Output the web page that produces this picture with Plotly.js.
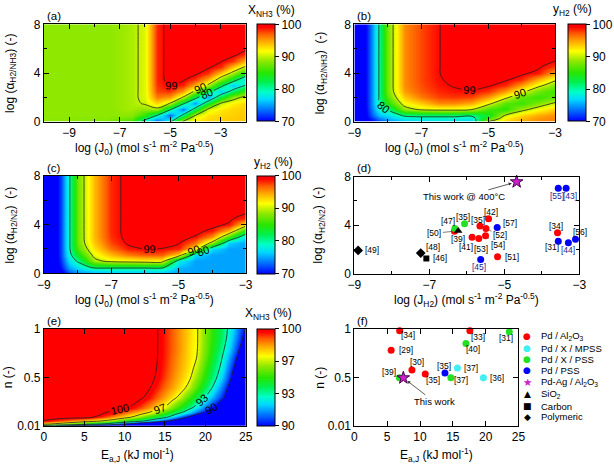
<!DOCTYPE html>
<html><head><meta charset="utf-8">
<script src="https://cdn.plot.ly/plotly-3.0.1.min.js"></script>
<style>html,body{margin:0;padding:0;background:#fff}#plot{width:614px;height:466px}</style>
</head><body><div id="plot"></div>
<script>
// ---------------- DATA ----------------
// (a) X_NH3 (%) vs log(J0) and log(alpha H2/NH3)
const aX = [-10, -7.5, -7, -6.5, -6, -5.5, -5, -4.5, -4, -3.5, -3, -2.5, -2];
const aY = [0, 0.5, 1, 1.5, 2, 2.5, 3, 3.5, 4, 4.5, 5, 5.5, 6, 7, 8];
const aZ = [
 [88.5, 88, 87, 86, 78, 72.5, 79, 90.2, 92.5, 93, 93.3, 93.5, 93.6],
 [88.5, 88.5, 88.5, 88.3, 85, 79.5, 73, 81, 90.1, 92.5, 93, 93.3, 93.5],
 [88.5, 88.5, 88.8, 89.1, 88.5, 89, 80.5, 73.5, 82, 90.5, 92.3, 93, 93.3],
 [88.5, 88.5, 88.8, 89.3, 90.3, 93, 89.8, 81, 74.5, 83, 90.1, 92, 93],
 [88.5, 88.5, 88.8, 89.3, 90.8, 96, 95, 89.9, 81.5, 75, 83, 88.5, 91],
 [88.5, 88.5, 88.8, 89.3, 90.8, 97.5, 98, 95, 89.3, 82, 76, 81.5, 86],
 [88.5, 88.5, 88.8, 89.3, 90.8, 98, 99.3, 98.3, 94.5, 89.5, 82, 76, 80],
 [88.5, 88.5, 88.8, 89.3, 90.8, 98.2, 99.7, 99.4, 98, 94.5, 88.5, 83, 77],
 [88.5, 88.5, 88.8, 89.3, 90.8, 98.2, 99.8, 99.7, 99.5, 98, 93.5, 89, 83.5],
 [88.5, 88.5, 88.8, 89.3, 90.8, 98.2, 99.8, 99.8, 99.7, 99.4, 98, 93.5, 89.5],
 [88.5, 88.5, 88.8, 89.3, 90.8, 98.2, 99.8, 99.8, 99.8, 99.7, 99.3, 97.8, 94],
 [88.5, 88.5, 88.8, 89.3, 90.8, 98.2, 99.8, 99.8, 99.8, 99.8, 99.7, 99.5, 98],
 [88.5, 88.5, 88.8, 89.3, 90.8, 98.2, 99.8, 99.8, 99.8, 99.8, 99.8, 99.7, 99.4],
 [88.5, 88.5, 88.8, 89.3, 90.8, 98.2, 99.8, 99.8, 99.8, 99.8, 99.8, 99.8, 99.7],
 [88.5, 88.5, 88.8, 89.3, 90.8, 98.2, 99.8, 99.8, 99.8, 99.8, 99.8, 99.8, 99.8]
];
const aLevels = [80, 90, 99];

// (b) y_H2 (%) vs log(J0) and log(alpha H2/NH3)
const bX = [-9, -8.7, -8.5, -8.25, -8, -7.5, -7, -6.5, -6, -5.5, -5, -4.5, -4, -3.5, -3];
const bY = [0, 0.25, 0.5, 1, 1.5, 2, 2.5, 3, 3.5, 4, 4.5, 5, 6, 7, 8];
const bZ = [
 [62, 69, 70, 72, 74, 76, 76.5, 77, 77, 76.5, 90.2, 93, 94.5, 95.5, 96],
 [62, 69, 71, 74, 75.5, 78, 78.5, 78.5, 78.5, 78, 86, 92, 94, 95.2, 95.8],
 [62, 69, 72.5, 76, 77, 80.5, 81, 81, 81, 80.5, 83.5, 90.3, 93, 94.5, 95.5],
 [62, 69, 73.5, 78.5, 80.2, 88.5, 90.5, 91, 91, 90.2, 86, 85, 89, 91.5, 93.5],
 [62, 69, 74, 80.1, 84.5, 91.5, 93.5, 95.5, 95.5, 94.5, 91, 86.5, 85.5, 88, 90.5],
 [62, 69, 74, 80.5, 86.5, 93.5, 96, 97.5, 97.8, 97.5, 95, 91, 87, 85.5, 87],
 [62, 69, 74, 80.5, 87.5, 95, 97, 98.2, 98.7, 98.9, 98, 95, 91, 87.5, 85.5],
 [62, 69, 74, 80.5, 87.5, 95.5, 97.3, 98.6, 99.2, 99.4, 99.3, 98.2, 95, 91, 88],
 [62, 69, 74, 80.5, 87.5, 95.5, 97.5, 98.8, 99.5, 99.7, 99.6, 99.4, 98.3, 94.5, 90.8],
 [62, 69, 74, 80.5, 87.5, 95.5, 97.5, 98.9, 99.7, 99.8, 99.8, 99.7, 99.4, 98.5, 94.5],
 [62, 69, 74, 80.5, 87.5, 95.5, 97.5, 98.9, 99.7, 99.8, 99.8, 99.8, 99.6, 99.3, 97.5],
 [62, 69, 74, 80.5, 87.5, 95.5, 97.5, 98.9, 99.7, 99.8, 99.8, 99.8, 99.75, 99.6, 99.05],
 [62, 69, 74, 80.5, 87.5, 95.5, 97.5, 98.9, 99.7, 99.8, 99.8, 99.8, 99.8, 99.8, 99.7],
 [62, 69, 74, 80.5, 87.5, 95.5, 97.5, 98.9, 99.7, 99.8, 99.8, 99.8, 99.8, 99.8, 99.8],
 [62, 69, 74, 80.5, 87.5, 95.5, 97.5, 98.9, 99.7, 99.8, 99.8, 99.8, 99.8, 99.8, 99.8]
];
const bLevels = [80, 90, 99];

// (c) y_H2 (%) vs log(J0) and log(alpha H2/N2)
const cX = [-9, -8.7, -8.5, -8.25, -8, -7.5, -7, -6.5, -6, -5.5, -5, -4.5, -4, -3.5, -3];
const cY = [0, 0.25, 0.5, 1, 1.5, 2, 2.5, 3, 3.5, 4, 4.5, 5, 6, 7, 8];
const cZ = [
 [62, 68, 68, 72, 74, 75.5, 76, 76, 76, 76, 75, 75, 75, 75, 75],
 [62, 68, 69.5, 73.5, 75.5, 77, 77.5, 77.5, 77.5, 77.5, 75.2, 75, 75, 75, 75],
 [62, 68, 70.5, 75, 77, 81, 81, 81, 81, 81, 75.5, 75, 75, 75, 75],
 [62, 68, 71.5, 77, 80.5, 89, 91, 91.5, 92, 92, 78, 75, 75, 75, 75],
 [62, 68, 72, 78.5, 84, 91, 94, 96, 97, 97, 93, 77, 75, 75, 75],
 [62, 68, 72, 79.3, 86.5, 92.5, 96.3, 98.5, 99.05, 98.95, 98.3, 92.5, 77, 75, 75],
 [62, 68, 72, 79.3, 87.5, 93.5, 97.5, 99.3, 99.6, 99.6, 99.2, 96.5, 89, 76.5, 75],
 [62, 68, 72, 79.3, 87.5, 94, 98, 99.6, 99.8, 99.8, 99.6, 98.9, 95.5, 86, 77],
 [62, 68, 72, 79.3, 87.5, 94, 98.2, 99.6, 99.8, 99.8, 99.8, 99.5, 98.7, 94, 84],
 [62, 68, 72, 79.3, 87.5, 94, 98.2, 99.6, 99.8, 99.8, 99.8, 99.7, 99.5, 98.8, 92.3],
 [62, 68, 72, 79.3, 87.5, 94, 98.2, 99.6, 99.8, 99.8, 99.8, 99.8, 99.7, 99.4, 98],
 [62, 68, 72, 79.3, 87.5, 94, 98.2, 99.6, 99.8, 99.8, 99.8, 99.8, 99.75, 99.6, 99.3],
 [62, 68, 72, 79.3, 87.5, 94, 98.2, 99.6, 99.8, 99.8, 99.8, 99.8, 99.8, 99.8, 99.7],
 [62, 68, 72, 79.3, 87.5, 94, 98.2, 99.6, 99.8, 99.8, 99.8, 99.8, 99.8, 99.8, 99.8],
 [62, 68, 72, 79.3, 87.5, 94, 98.2, 99.6, 99.8, 99.8, 99.8, 99.8, 99.8, 99.8, 99.8]
];
const cLevels = [80, 90, 99];

// (e) X_NH3 (%) vs E_a,J and n
const eX = [0, 2, 4, 6, 8, 10, 12, 13, 14, 15, 16, 17, 18, 19, 20, 21, 22, 23, 24, 25];
const eY = [0.01, 0.03, 0.06, 0.1, 0.15, 0.2, 0.3, 0.4, 0.5, 0.6, 0.7, 0.8, 0.9, 1.0];
const eZ = [
 [91.5, 89.5, 88, 87, 86, 85.5, 85, 85, 85, 85, 85, 85, 85, 85, 85, 85, 85, 85, 85, 85],
 [97.5, 96.3, 95.1, 93.8, 92.3, 90.1, 88, 86.9, 85.8, 85, 85, 85, 85, 85, 85, 85, 85, 85, 85, 85],
 [99.9, 99.1, 98.3, 97.5, 96.45, 94.9, 93.3, 92.4, 91.4, 90.4, 89.4, 88.4, 87.4, 86.4, 85.4, 85, 85, 85, 85, 85],
 [100.5, 100.5, 100.5, 100.1, 98.9, 97.6, 96.1, 95.2, 94.3, 93.4, 92.25, 91.0, 89.75, 88.5, 87.25, 86, 85, 85, 85, 85],
 [100.5, 100.5, 100.5, 100.5, 99.94, 98.8, 97.7, 97.1, 96.2, 95.2, 94.2, 93.2, 92.1, 90.9, 89.8, 88.6, 87.5, 86.3, 85.2, 85],
 [100.5, 100.5, 100.5, 100.5, 100.5, 100.3, 99.1, 98.4, 97.7, 96.9, 95.8, 94.7, 93.6, 92.4, 91.2, 89.99, 88.8, 87.6, 86.4, 85.2],
 [100.5, 100.5, 100.5, 100.5, 100.5, 100.5, 100.2, 99.63, 98.9, 98.2, 97.4, 96.5, 95.3, 94.1, 92.9, 91.7, 90.4, 89.1, 87.8, 86.5],
 [100.5, 100.5, 100.5, 100.5, 100.5, 100.5, 100.5, 100.12, 99.5, 98.8, 98.2, 97.5, 96.6, 95.4, 94.1, 92.8, 91.2, 89.6, 88.0, 86.4],
 [100.5, 100.5, 100.5, 100.5, 100.5, 100.5, 100.5, 100.32, 99.87, 99.2, 98.5, 97.9, 97.2, 96.1, 94.9, 93.6, 92.1, 90.35, 88.6, 86.8],
 [100.5, 100.5, 100.5, 100.5, 100.5, 100.5, 100.5, 100.4, 99.98, 99.36, 98.7, 98.1, 97.45, 96.6, 95.3, 94.0, 92.7, 90.9, 89.2, 87.5],
 [100.5, 100.5, 100.5, 100.5, 100.5, 100.5, 100.5, 100.44, 100.04, 99.44, 98.8, 98.2, 97.6, 96.94, 95.7, 94.4, 93.1, 91.5, 89.8, 88.2],
 [100.5, 100.5, 100.5, 100.5, 100.5, 100.5, 100.5, 100.46, 100.06, 99.47, 98.9, 98.3, 97.6, 97.03, 95.9, 94.7, 93.5, 92.1, 90.4, 88.75],
 [100.5, 100.5, 100.5, 100.5, 100.5, 100.5, 100.5, 100.46, 100.06, 99.48, 98.9, 98.3, 97.7, 97.06, 96.0, 94.9, 93.8, 92.5, 90.95, 89.4],
 [100.5, 100.5, 100.5, 100.5, 100.5, 100.5, 100.5, 100.46, 100.06, 99.48, 98.9, 98.3, 97.7, 97.06, 96.0, 94.95, 93.9, 92.7, 91.3, 89.9]
];
const eLevels = [90, 93, 97, 100];

// categories (legend)
const catNames = ['Pd / Al<sub>2</sub>O<sub>3</sub>', 'Pd / X / MPSS', 'Pd / X / PSS', 'Pd / PSS',
                  'Pd-Ag / Al<sub>2</sub>O<sub>3</sub>', 'SiO<sub>2</sub>', 'Carbon', 'Polymeric'];

// (d) log(J_H2) vs log(alpha H2/N2)
const dX = [-5.42, -5.65, -5.49, -6.33, -5.86, -5.68, -5.50, -3.58, -5.18, -6.32, -6.06, -3.56, -3.35, -5.19, -3.10, -3.56, -3.29, -5.63, -4.67, -6.23, -7.08, -8.90, -7.23];
const dY = [4.52, 3.92, 3.73, 3.50, 3.01, 2.90, 3.12, 3.37, 1.40, 3.73, 4.11, 7.04, 7.04, 3.81, 2.85, 2.68, 2.55, 1.18, 7.56, 3.53, 1.26, 1.92, 1.70];
const dRef = ['[42]','[35]','[52]','[50]','[41]','[53]','[54]','[34]','[51]','[47]','[35]','[55]','[43]','[57]','[56]','[31]','[44]','[45]','','[39]','[46]','[49]','[48]'];
const dCat = [0,0,0,0,0,0,0,0,0, 2,2, 3,3,3,3,3,3,3, 4, 5, 6, 7,7];

// (f) E_a,J vs n
const fX = [6.9, 17.6, 5.6, 8.77, 10.8, 15.7, 19.66, 23.6, 17.0, 6.85, 14.7, 13.8, 7.46];
const fY = [0.98, 0.98, 0.78, 0.58, 0.54, 0.60, 0.50, 0.97, 0.85, 0.50, 0.50, 0.55, 0.50];
const fRef = ['[34]','[33]','[29]','[30]','[35]','[37]','[36]','[31]','[40]','[39]','[37]','[35]',''];
const fCat = [0,0,0,0,0, 1,1, 2,2,2,2, 3, 4];

// ---------------- STYLE ----------------
const FONT = 'Liberation Sans, Arial, Helvetica, sans-serif';
const W = 614, H = 466;
const P = v => v / W, Q = v => 1 - v / H;
const JET = [[0,'rgb(0,0,255)'],[0.1,'rgb(0,100,255)'],[0.22,'rgb(0,215,255)'],[0.3,'rgb(0,255,200)'],
  [0.4,'rgb(0,240,80)'],[0.5,'rgb(40,230,0)'],[0.62,'rgb(145,232,0)'],[0.72,'rgb(255,255,0)'],
  [0.82,'rgb(255,170,0)'],[0.9,'rgb(255,90,0)'],[0.97,'rgb(255,0,0)'],[1,'rgb(255,0,0)']];
const catColor = ['#ff0000','#40f0f0','#22e022','#0000ff','#cc22cc','#000000','#000000','#000000'];
const catSymbol = ['circle','circle','circle','circle','star','triangle-up','square','diamond'];
const catSize = [7,7,7,7,9.5,7.5,6,7.5];
const catGlyph = ['●','●','●','●','★','▲','■','◆'];

const DOM = {
  a:{x:[44.3,247.7], y:[24.3,121.7]}, b:{x:[357.3,559.7], y:[24.3,121.7]},
  c:{x:[44.3,247.7], y:[175.7,273.3]}, d:{x:[357.3,584], y:[176.5,273.8]},
  e:{x:[44.3,247.7], y:[328.7,426]}, f:{x:[357.3,522.7], y:[328.7,426]}
};

function axis(dom, isX, range, anchor, extra) {
  const d = isX ? [P(dom[0]), P(dom[1])] : [Q(dom[1]), Q(dom[0])];
  return Object.assign({domain:d, range:range, anchor:anchor, showline:true, linecolor:'#000', linewidth:1,
    mirror:'ticks', ticks:'inside', ticklen:5, tickwidth:1, tickcolor:'#000', showgrid:false, zeroline:false,
    tickfont:{size:12,color:'#000',family:FONT}, fixedrange:true}, extra || {});
}
const logXTicks = {tickmode:'linear', tick0:-9, dtick:2, minor:{dtick:1, tick0:-10, ticks:'inside', ticklen:3, tickcolor:'#000', showgrid:false}};
const alphaTicks = {tickmode:'linear', tick0:0, dtick:4, minor:{dtick:2, tick0:0, ticks:'inside', ticklen:3, tickcolor:'#000', showgrid:false}};
const eTicks = {tickmode:'linear', tick0:0, dtick:5};
const nTicks = {tickmode:'array', tickvals:[0.01,0.5,1], ticktext:['0.01','0.5','1']};

function colorbar(px, dom, tv, tt) {
  const y0 = dom.y[0], y1 = dom.y[1];
  return {x:P(px), xanchor:'left', y:Q((y0+y1)/2), yanchor:'middle', len:y1-y0, lenmode:'pixels',
    thickness:18, thicknessmode:'pixels', xpad:0, ypad:0, outlinewidth:1, outlinecolor:'#000',
    ticks:'outside', ticklen:4, tickcolor:'#000', tickvals:tv, ticktext:tt,
    tickfont:{size:12,color:'#000',family:FONT}};
}

const traces = [];
function contourPanel(x, y, z, xa, ya, zmin, zmax, levels, cb) {
  traces.push({type:'heatmap', x:x, y:y, z:z, zsmooth:'best', colorscale:JET, zmin:zmin, zmax:zmax,
    xaxis:xa, yaxis:ya, colorbar:cb, hoverinfo:'skip', showlegend:false});
  levels.forEach(L => traces.push({type:'contour', x:x, y:y, z:z, xaxis:xa, yaxis:ya, autocontour:false,
    contours:{start:L, end:L, size:1, coloring:'none', showlabels:true, labelfont:{size:11,color:'#000',family:FONT}},
    line:{color:'#222', width:0.8, smoothing:1}, showscale:false, showlegend:false, hoverinfo:'skip'}));
}
contourPanel(aX, aY, aZ, 'x', 'y', 70, 100, aLevels, colorbar(259.3, DOM.a, [70,80,90,100], ['70','80','90','100']));
contourPanel(bX, bY, bZ, 'x2', 'y2', 70, 100, bLevels, colorbar(572.7, DOM.b, [70,80,90,100], ['70','80','90','100']));
contourPanel(cX, cY, cZ, 'x3', 'y3', 70, 100, cLevels, colorbar(259.3, DOM.c, [70,80,90,100], ['70','80','90','100']));
contourPanel(eX, eY, eZ, 'x5', 'y5', 90, 100, eLevels, colorbar(259.3, DOM.e, [90,93.333,96.667,100], ['90','93','97','100']));

function scatterPanel(X, Y, C, xa, ya) {
  for (let k = 0; k < catNames.length; k++) {
    const idx = C.map((c,i)=>c===k?i:-1).filter(i=>i>=0);
    if (!idx.length) continue;
    traces.push({type:'scatter', mode:'markers', x:idx.map(i=>X[i]), y:idx.map(i=>Y[i]), xaxis:xa, yaxis:ya,
      cliponaxis:false, showlegend:false, hoverinfo:'skip',
      marker:{symbol:catSymbol[k], size:catSize[k], color:catColor[k],
        line:{width:k===4?1:0, color:'#4a0050'}}});
  }
}
scatterPanel(dX, dY, dCat, 'x4', 'y4');
scatterPanel(fX, fY, fCat, 'x6', 'y6');

// label offsets (pixels): [mode, dx, dy] ; mode c=centered, l=left anchored, a=leader line
const dLab = [['c',2.3,7.3],['c',-2.3,6.3],['a',14,7],['a',-20,2],['c',-6,-10],['c',2.3,-10],['a',12,9],
  ['c',-1.3,7],['l',5.7,0],['c',-7,7],['c',-1.7,7.3],['c',-1.5,-7.7],['c',3.8,-7.7],['l',4,4.3],['c',4.3,6.7],
  ['c',-6,-5.3],['c',0,-7],['c',-1.3,-7.7],null,['c',0,-8.3],['l',5,0],['l',5,0],['l',3,6]];
const fLab = [['c',8.7,-4.3],['c',7.7,-6],['l',5.7,0],['c',5.3,7.7],['c',8,-6],['l',4.7,0],['l',4.3,0],
  ['c',-3.7,-6.7],['c',7,-5.3],['c',-10,6],['c',10,-2.3],['c',-1,7.3],null];
const navyRefs = {'[55]':1,'[43]':1,'[44]':1,'[45]':1};

const ann = [];
function txt(x, y, text, o) {
  ann.push(Object.assign({xref:'paper', yref:'paper', x:x, y:y, text:text, showarrow:false,
    font:{size:12,color:'#000',family:FONT}, xanchor:'center', yanchor:'middle'}, o || {}));
}
function labels(X, Y, R, L, xa, ya, isD) {
  R.forEach((r,i) => {
    if (!r || !L[i]) return;
    const m = L[i];
    const col = (isD && navyRefs[r]) ? '#1c1c90' : '#000';
    const base = {xref:xa, yref:ya, x:X[i], y:Y[i], text:r, font:{size:8.5,color:col,family:FONT}};
    if (m[0] === 'a') {
      ann.push(Object.assign(base, {showarrow:true, arrowhead:0, arrowwidth:0.7, arrowcolor:'#444', ax:m[1], ay:m[2], standoff:3}));
    } else {
      ann.push(Object.assign(base, {showarrow:false, xanchor:m[0]==='l'?'left':'center', yanchor:'middle', xshift:m[1], yshift:m[2]}));
    }
  });
}
labels(dX, dY, dRef, dLab, 'x4', 'y4', true);
labels(fX, fY, fRef, fLab, 'x6', 'y6', false);

// "This work" arrows (point at the Pd-Ag star)
const dStar = dCat.indexOf(4), fStar = fCat.indexOf(4);
ann.push({xref:'x4', yref:'y4', x:dX[dStar], y:dY[dStar], text:'This work @ 400°C', showarrow:true,
  arrowhead:2, arrowsize:0.8, arrowwidth:0.8, arrowcolor:'#333', ax:-53, ay:15, standoff:5,
  font:{size:9.5,color:'#000',family:FONT}});
ann.push({xref:'x6', yref:'y6', x:fX[fStar], y:fY[fStar], text:'This work', showarrow:true,
  arrowhead:2, arrowsize:0.8, arrowwidth:0.8, arrowcolor:'#333', ax:31, ay:24, standoff:5,
  font:{size:9.5,color:'#000',family:FONT}});

// panel letters
[['(a)',DOM.a],['(b)',DOM.b],['(c)',DOM.c],['(d)',DOM.d],['(e)',DOM.e],['(f)',DOM.f]].forEach(([t,d]) =>
  txt(P(d.x[0]+1), Q(d.y[0]), t, {xanchor:'left', yanchor:'bottom', font:{size:11.5,color:'#000',family:FONT}}));

// colorbar titles
txt(P(274), Q(11), 'X<sub>NH3</sub> (%)');
txt(P(577), Q(10), 'y<sub>H2</sub> (%)');
txt(P(275.5), Q(163), 'y<sub>H2</sub> (%)');
txt(P(271), Q(313.5), 'X<sub>NH3</sub> (%)');

// axis titles
const jTitle = 'log (J<sub>0</sub>) (mol s<sup>-1</sup> m<sup>-2</sup> Pa<sup>-0.5</sup>)';
txt(P(146), Q(148), jTitle);
txt(P(458.5), Q(148), jTitle);
txt(P(146), Q(300), jTitle);
txt(P(470.7), Q(300), 'log (J<sub>H2</sub>) (mol s<sup>-1</sup> m<sup>-2</sup> Pa<sup>-0.5</sup>)');
txt(P(139), Q(455), 'E<sub>a,J</sub> (kJ mol<sup>-1</sup>)');
txt(P(440), Q(455), 'E<sub>a,J</sub> (kJ mol<sup>-1</sup>)');
txt(P(11), Q(73), 'log (α<sub>H2/NH3</sub>) (-)', {textangle:-90});
txt(P(324), Q(73), 'log (α<sub>H2/NH3</sub>)  (-)', {textangle:-90});
txt(P(11), Q(224.5), 'log (α<sub>H2/N2</sub>)  (-)', {textangle:-90});
txt(P(322), Q(225), 'log (α<sub>H2/N2</sub>)  (-)', {textangle:-90});
txt(P(8), Q(377.4), 'n (-)', {textangle:-90});
txt(P(323), Q(377.4), 'n (-)', {textangle:-90});

// legend (text glyphs + names)
const legY = [336, 348.3, 359.3, 370, 381.7, 394, 406, 416.7];
catNames.forEach((nm,k) => {
  txt(P(531.5), Q(legY[k]), catGlyph[k], {font:{size:k===4?10.5:9,color:catColor[k],family:'DejaVu Sans, sans-serif'}});
  txt(P(543), Q(legY[k]), nm, {xanchor:'left', font:{size:9.5,color:'#000',family:FONT}});
});

const layout = {
  width:W, height:H, margin:{l:0,r:0,t:0,b:0}, paper_bgcolor:'#fff', plot_bgcolor:'#fff',
  showlegend:false, hovermode:false, font:{family:FONT, size:12, color:'#000'},
  xaxis: axis(DOM.a.x, true, [-10,-2], 'y', logXTicks),
  yaxis: axis(DOM.a.y, false, [0,8], 'x', alphaTicks),
  xaxis2: axis(DOM.b.x, true, [-9,-3], 'y2', logXTicks),
  yaxis2: axis(DOM.b.y, false, [0,8], 'x2', alphaTicks),
  xaxis3: axis(DOM.c.x, true, [-9,-3], 'y3', logXTicks),
  yaxis3: axis(DOM.c.y, false, [0,8], 'x3', alphaTicks),
  xaxis4: axis(DOM.d.x, true, [-9,-3], 'y4', logXTicks),
  yaxis4: axis(DOM.d.y, false, [0,8], 'x4', alphaTicks),
  xaxis5: axis(DOM.e.x, true, [0,25], 'y5', eTicks),
  yaxis5: axis(DOM.e.y, false, [0.01,1], 'x5', nTicks),
  xaxis6: axis(DOM.f.x, true, [0,25], 'y6', eTicks),
  yaxis6: axis(DOM.f.y, false, [0.01,1], 'x6', nTicks),
  annotations: ann
};
Plotly.newPlot('plot', traces, layout, {staticPlot:true, displayModeBar:false});
</script></body></html>
